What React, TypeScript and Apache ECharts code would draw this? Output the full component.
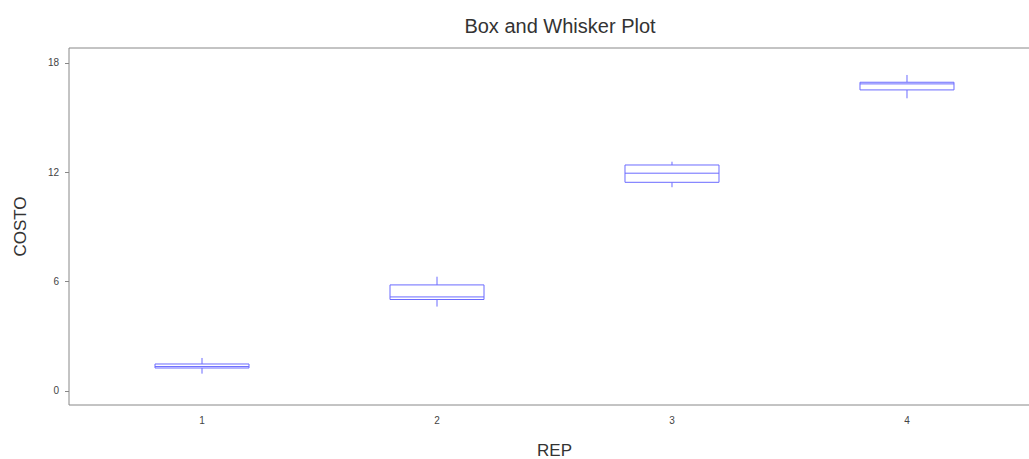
import React, { useEffect, useRef } from "react";
import * as echarts from "echarts";

const categories = [1, 2, 3, 4];
const whiskerLow = [0.95, 4.63, 11.18, 16.06];
const q1 = [1.26, 5.02, 11.45, 16.52];
const median = [1.34, 5.16, 11.95, 16.85];
const q3 = [1.48, 5.82, 12.4, 16.94];
const whiskerHigh = [1.81, 6.27, 12.58, 17.34];
const yTicks = [0, 6, 12, 18];

const BLUE = "#6b6bff";

export default function App() {
  const ref = useRef<HTMLDivElement>(null);
  useEffect(() => {
    document.body.style.margin = "0";
    const chart = echarts.init(ref.current!, null, { renderer: "svg" });
    const data = categories.map((c, i) => [c, whiskerLow[i], q1[i], median[i], q3[i], whiskerHigh[i]]);
    chart.setOption({
      animation: false,
      backgroundColor: "#fff",
      title: {
        text: "Box and Whisker Plot",
        left: 555,
        textAlign: "center",
        top: 11,
        textStyle: { fontFamily: "Liberation Sans", fontSize: 20, fontWeight: "normal", color: "#333" },
      },
      grid: {
        left: 69,
        top: 48,
        width: 971,
        height: 357,
        show: true,
        borderColor: "#888",
        borderWidth: 1,
        outerBoundsMode: "none",
        containLabel: false,
      },
      xAxis: {
        type: "value",
        min: 0.434,
        max: 4.566,
        name: "REP",
        nameLocation: "middle",
        nameGap: 37,
        nameTextStyle: { fontFamily: "Liberation Sans", fontSize: 17, color: "#333" },
        axisLine: { show: false },
        axisTick: { show: false },
        splitLine: { show: false },
        axisLabel: {
          customValues: categories,
          margin: 10,
          fontFamily: "Liberation Sans",
          fontSize: 10,
          color: "#444",
        },
      },
      yAxis: {
        type: "value",
        min: -0.77,
        max: 18.82,
        name: "COSTO",
        nameLocation: "middle",
        nameGap: 40,
        nameTextStyle: { fontFamily: "Liberation Sans", fontSize: 17, color: "#333" },
        axisLine: { show: false },
        splitLine: { show: false },
        axisTick: { show: true, customValues: yTicks, length: 4, lineStyle: { color: "#888" } },
        axisLabel: {
          customValues: yTicks,
          margin: 10,
          fontFamily: "Liberation Sans",
          fontSize: 10,
          color: "#444",
        },
      },
      series: [
        {
          type: "custom",
          data,
          clip: false,
          renderItem: (params: any, api: any) => {
            const x = api.value(0);
            const lo = api.coord([x, api.value(1)]);
            const b1 = api.coord([x, api.value(2)]);
            const md = api.coord([x, api.value(3)]);
            const b3 = api.coord([x, api.value(4)]);
            const hi = api.coord([x, api.value(5)]);
            const half = api.size([0.4, 0])[0] / 2;
            const style = { stroke: BLUE, lineWidth: 1, fill: "none" };
            return {
              type: "group",
              children: [
                { type: "line", shape: { x1: hi[0], y1: hi[1], x2: hi[0], y2: b3[1] }, style },
                { type: "line", shape: { x1: lo[0], y1: b1[1], x2: lo[0], y2: lo[1] }, style },
                {
                  type: "rect",
                  shape: { x: b3[0] - half, y: b3[1], width: half * 2, height: b1[1] - b3[1] },
                  style: { stroke: BLUE, lineWidth: 1, fill: "#fff" },
                },
                { type: "line", shape: { x1: md[0] - half, y1: md[1], x2: md[0] + half, y2: md[1] }, style },
              ],
            };
          },
        },
      ],
    });
    return () => chart.dispose();
  }, []);
  return <div ref={ref} style={{ width: 1029, height: 459 }} />;
}
